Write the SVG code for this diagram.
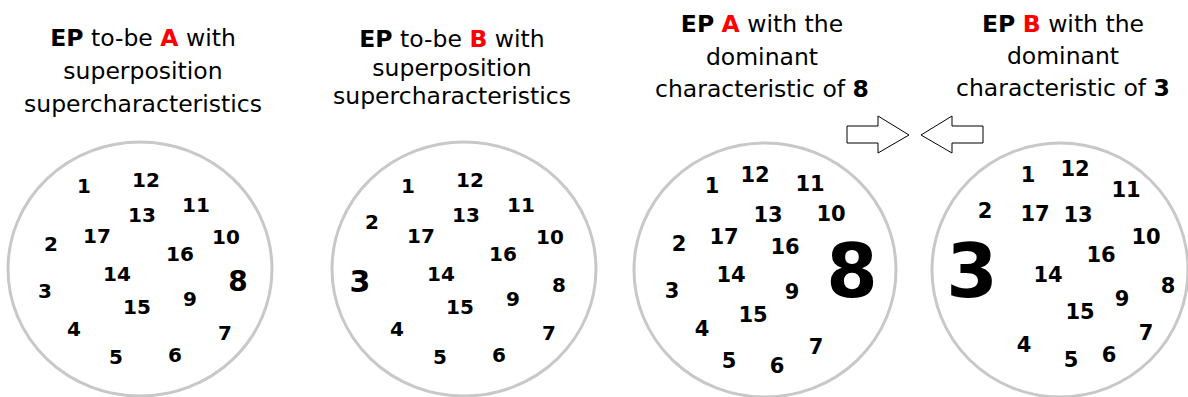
<svg xmlns="http://www.w3.org/2000/svg" width="1188" height="397" viewBox="0 0 1188 397">
<style>
.title{font-family:"DejaVu Sans","Verdana",sans-serif;font-size:23.5px;fill:#000;text-anchor:middle}
.b{font-weight:bold}
.red{fill:#ff0000;font-weight:bold}
.ring{fill:#fff;stroke:#c8c8c8;stroke-width:3}
.n{font-family:"DejaVu Sans","Verdana",sans-serif;font-weight:bold;font-size:20px;fill:#000;text-anchor:middle}
.n2{font-size:21px}
.arrow{fill:#fff;stroke:#000;stroke-width:1}
</style>
<rect width="1188" height="397" fill="#fff"/>
<g id="title-1">
<text class="title" x="143" y="46"><tspan class="b">EP</tspan> to-be <tspan class="red">A</tspan> with</text>
<text class="title" x="143" y="79">superposition</text>
<text class="title" x="143" y="112">supercharacteristics</text>
</g>
<g id="title-2">
<text class="title" x="452" y="47"><tspan class="b">EP</tspan> to-be <tspan class="red">B</tspan> with</text>
<text class="title" x="452" y="76">superposition</text>
<text class="title" x="452" y="104">supercharacteristics</text>
</g>
<g id="title-3">
<text class="title" x="762" y="32"><tspan class="b">EP</tspan> <tspan class="red">A</tspan> with the</text>
<text class="title" x="762" y="65">dominant</text>
<text class="title" x="762" y="97">characteristic of <tspan class="b">8</tspan></text>
</g>
<g id="title-4">
<text class="title" x="1063" y="32"><tspan class="b">EP</tspan> <tspan class="red">B</tspan> with the</text>
<text class="title" x="1063" y="64">dominant</text>
<text class="title" x="1063" y="96">characteristic of <tspan class="b">3</tspan></text>
</g>
<g id="connectors">
<path class="arrow" d="M847,126 H878 V116 L909,135 L878,153 V143 H847 Z"/>
<path class="arrow" d="M983,126 H952 V116 L921,135 L952,153 V143 H983 Z"/>
</g>
<g id="circle-1">
<ellipse class="ring" cx="140" cy="269" rx="132" ry="127"/>
<text class="n" x="84" y="193">1</text>
<text class="n" x="146" y="187">12</text>
<text class="n" x="196" y="212">11</text>
<text class="n" x="142" y="222">13</text>
<text class="n" x="97" y="243">17</text>
<text class="n" x="51" y="251">2</text>
<text class="n" x="226" y="244">10</text>
<text class="n" x="180" y="261">16</text>
<text class="n" x="117" y="281">14</text>
<text class="n" x="238" y="291" style="font-size:28px">8</text>
<text class="n" x="45" y="298">3</text>
<text class="n" x="190" y="306">9</text>
<text class="n" x="137" y="314">15</text>
<text class="n" x="74" y="336">4</text>
<text class="n" x="225" y="340">7</text>
<text class="n" x="175" y="362">6</text>
<text class="n" x="116" y="364">5</text>
</g>
<g id="circle-2">
<ellipse class="ring" cx="464" cy="269" rx="132" ry="127"/>
<text class="n" x="408" y="193">1</text>
<text class="n" x="470" y="187">12</text>
<text class="n" x="521" y="212">11</text>
<text class="n" x="372" y="229">2</text>
<text class="n" x="466" y="222">13</text>
<text class="n" x="421" y="243">17</text>
<text class="n" x="550" y="244">10</text>
<text class="n" x="503" y="261">16</text>
<text class="n" x="441" y="281">14</text>
<text class="n" x="360" y="292" style="font-size:30px">3</text>
<text class="n" x="559" y="292">8</text>
<text class="n" x="513" y="306">9</text>
<text class="n" x="460" y="314">15</text>
<text class="n" x="397" y="336">4</text>
<text class="n" x="549" y="340">7</text>
<text class="n" x="499" y="362">6</text>
<text class="n" x="440" y="364">5</text>
</g>
<g id="circle-3">
<ellipse class="ring" cx="765" cy="270" rx="131" ry="127"/>
<text class="n n2" x="712" y="193">1</text>
<text class="n n2" x="755" y="182">12</text>
<text class="n n2" x="810" y="191">11</text>
<text class="n n2" x="768" y="222">13</text>
<text class="n n2" x="831" y="221">10</text>
<text class="n n2" x="724" y="244">17</text>
<text class="n n2" x="679" y="251">2</text>
<text class="n n2" x="785" y="254">16</text>
<text class="n" x="852" y="297" style="font-size:74px">8</text>
<text class="n n2" x="731" y="282">14</text>
<text class="n n2" x="672" y="298">3</text>
<text class="n n2" x="792" y="299">9</text>
<text class="n n2" x="753" y="322">15</text>
<text class="n n2" x="702" y="336">4</text>
<text class="n n2" x="816" y="354">7</text>
<text class="n n2" x="729" y="368">5</text>
<text class="n n2" x="777" y="373">6</text>
</g>
<g id="circle-4">
<ellipse class="ring" cx="1060" cy="270" rx="128" ry="127"/>
<text class="n n2" x="1028" y="182">1</text>
<text class="n n2" x="1075" y="176">12</text>
<text class="n n2" x="1126" y="197">11</text>
<text class="n n2" x="985" y="218">2</text>
<text class="n n2" x="1035" y="221">17</text>
<text class="n n2" x="1078" y="222">13</text>
<text class="n n2" x="1146" y="244">10</text>
<text class="n n2" x="1101" y="262">16</text>
<text class="n" x="972" y="297" style="font-size:74px">3</text>
<text class="n n2" x="1048" y="282">14</text>
<text class="n n2" x="1168" y="293">8</text>
<text class="n n2" x="1122" y="306">9</text>
<text class="n n2" x="1080" y="319">15</text>
<text class="n n2" x="1146" y="340">7</text>
<text class="n n2" x="1024" y="352">4</text>
<text class="n n2" x="1109" y="362">6</text>
<text class="n n2" x="1071" y="367">5</text>
</g>
</svg>
